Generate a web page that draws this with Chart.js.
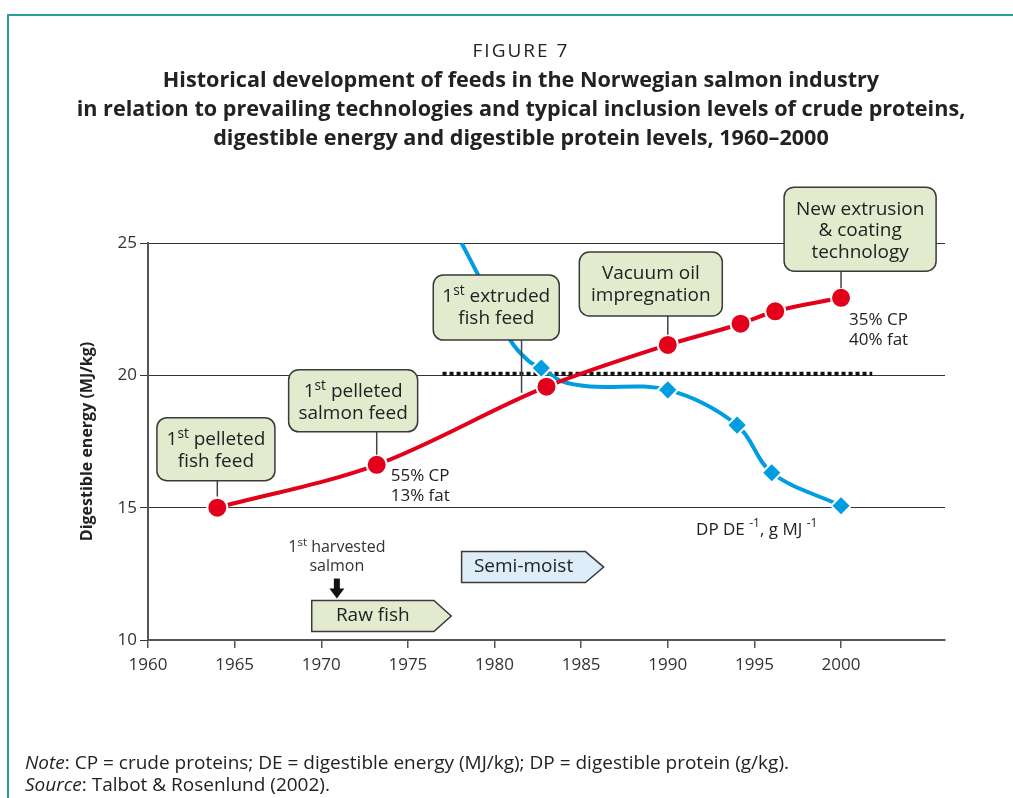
<!DOCTYPE html>
<html>
<head>
<meta charset="utf-8">
<script src="https://cdn.jsdelivr.net/npm/chart.js"></script>
<style>
  body { margin: 0; background: #fff; }
  #wrap { position: relative; width: 1013px; height: 798px; overflow: hidden; font-family: "Open Sans", sans-serif; color: #222; }
  #frame { position: absolute; left: 7px; top: 14px; right: -5px; bottom: -5px; border-top: 2px solid #2a9d96; border-left: 2px solid #2a9d96; }
  #chart { position: absolute; left: 0; top: 0; }
  #head { position: absolute; left: 20px; width: 1002px; top: 36px; text-align: center; }
  #head .fig { font-size: 19px; line-height: 28px; letter-spacing: 2px; }
  #head .ttl { font-size: 21.6px; font-weight: bold; line-height: 29px; }
  #note { position: absolute; left: 25px; top: 751px; font-size: 19px; line-height: 22px; }
</style>
</head>
<body>
<div id="wrap">
  <div id="frame"></div>
  <canvas id="chart" width="1013" height="798"></canvas>
  <div id="head">
    <div class="fig">FIGURE 7</div>
    <div class="ttl">Historical development of feeds in the Norwegian salmon industry<br>in relation to prevailing technologies and typical inclusion levels of crude proteins,<br>digestible energy and digestible protein levels, 1960–2000</div>
  </div>
  <div id="note"><i>Note</i>: CP = crude proteins; DE = digestible energy (MJ/kg); DP = digestible protein (g/kg).<br><i>Source</i>: Talbot &amp; Rosenlund (2002).</div>
</div>
<script>
// digestible energy (MJ/kg), red line
const energyYears = [1964, 1973.2, 1983, 1990, 1994.2, 1996.2, 2000];
const energyValues = [15, 16.62, 19.57, 21.15, 21.95, 22.42, 22.93];

// DP/DE ratio, blue line (markers only where the figure has diamonds)
const ratioYears = [1978.1, 1979.0, 1980.9, 1982.0, 1982.7, 1983.9, 1985.5, 1990, 1994, 1996, 2000];
const ratioValues = [25.0, 23.86, 21.34, 20.52, 20.28, 19.77, 19.58, 19.45, 18.12, 16.32, 15.07];
const ratioMarked = [false, false, false, false, true, false, false, true, true, true, true];

// dotted reference line
const refYears = [1977, 2001.8];
const refValues = [20.06, 20.06];

const xTicks = [1960, 1965, 1970, 1975, 1980, 1985, 1990, 1995, 2000];
const yTicks = [10, 15, 20, 25];

const RED = '#e2001a';
const BLUE = '#009ee0';
const FONT = '"Open Sans", sans-serif';

const toXY = (xs, ys) => xs.map((x, i) => ({ x: x, y: ys[i] }));

// callout boxes: centre year, top value, size in px, leader year / end value
const callouts = [
  { lines: [[['1'], ['st', 1], [' pelleted']], [['fish feed']]], cx: 1963.92, top: 18.40, w: 118, h: 63, lx: 1964, ly: 15.42 },
  { lines: [[['1'], ['st', 1], [' pelleted']], [['salmon feed']]], cx: 1971.84, top: 20.21, w: 129, h: 62, lx: 1973.2, ly: 17.0 },
  { lines: [[['1'], ['st', 1], [' extruded']], [['fish feed']]], cx: 1980.1, top: 23.79, w: 126, h: 65, lx: 1981.56, ly: 19.34 },
  { lines: [[['Vacuum oil']], [['impregnation']]], cx: 1989.02, top: 24.66, w: 143, h: 64, lx: 1990, ly: 21.53 },
  { lines: [[['New extrusion']], [['& coating']], [['technology']]], cx: 2001.1, top: 27.11, w: 152, h: 84, lx: 2000, ly: 23.3 }
];

// arrow-shaped period boxes
const periods = [
  { text: 'Raw fish', x0: 1969.45, x1: 1976.5, tip: 1977.5, top: 11.49, bottom: 10.32, fill: '#e3ebcf' },
  { text: 'Semi-moist', x0: 1978.1, x1: 1985.25, tip: 1986.3, top: 13.34, bottom: 12.17, fill: '#dcedf8' }
];

function richWidth(ctx, parts, size) {
  let w = 0;
  parts.forEach(p => {
    ctx.font = (p[1] ? size * 0.72 : size) + 'px ' + FONT;
    w += ctx.measureText(p[0]).width;
  });
  return w;
}

function drawRich(ctx, parts, cx, cy, size) {
  let x = cx - richWidth(ctx, parts, size) / 2;
  ctx.textAlign = 'left';
  ctx.textBaseline = 'middle';
  parts.forEach(p => {
    const s = p[1] ? size * 0.72 : size;
    ctx.font = s + 'px ' + FONT;
    ctx.fillText(p[0], x, p[1] ? cy - size * 0.3 : cy);
    x += ctx.measureText(p[0]).width;
  });
}

const annotate = {
  id: 'annotate',
  afterDatasetsDraw(chart) {
    const ctx = chart.ctx;
    const xs = chart.scales.x, ys = chart.scales.y;
    ctx.save();
    ctx.fillStyle = '#222';

    // callouts
    callouts.forEach(c => {
      const cx = xs.getPixelForValue(c.cx);
      const top = ys.getPixelForValue(c.top);
      const lx = xs.getPixelForValue(c.lx);
      ctx.strokeStyle = '#444';
      ctx.lineWidth = 1.5;
      ctx.beginPath();
      ctx.moveTo(lx, top + c.h);
      ctx.lineTo(lx, ys.getPixelForValue(c.ly));
      ctx.stroke();
      ctx.beginPath();
      ctx.roundRect(cx - c.w / 2, top, c.w, c.h, 10);
      ctx.fillStyle = '#e3ebcf';
      ctx.fill();
      ctx.strokeStyle = '#3a3a3a';
      ctx.stroke();
      ctx.fillStyle = '#222';
      c.lines.forEach((ln, i) => drawRich(ctx, ln, cx, top + 22 + 21.5 * i, 19));
    });

    // period arrows
    periods.forEach(p => {
      const x0 = xs.getPixelForValue(p.x0), x1 = xs.getPixelForValue(p.x1), xt = xs.getPixelForValue(p.tip);
      const t = ys.getPixelForValue(p.top), b = ys.getPixelForValue(p.bottom);
      ctx.beginPath();
      ctx.moveTo(x0, t); ctx.lineTo(x1, t); ctx.lineTo(xt, (t + b) / 2);
      ctx.lineTo(x1, b); ctx.lineTo(x0, b); ctx.closePath();
      ctx.fillStyle = p.fill;
      ctx.fill();
      ctx.strokeStyle = '#3a3a3a';
      ctx.lineWidth = 1.5;
      ctx.stroke();
      ctx.fillStyle = '#222';
      drawRich(ctx, [[p.text]], (x0 + x1) / 2, (t + b) / 2, 19);
    });

    // first harvested salmon
    const hx = xs.getPixelForValue(1970.9);
    const rawTop = ys.getPixelForValue(periods[0].top);
    ctx.fillStyle = '#333';
    drawRich(ctx, [['1'], ['st', 1], [' harvested']], hx, rawTop - 53, 16);
    drawRich(ctx, [['salmon']], hx, rawTop - 34, 16);
    ctx.fillStyle = '#111';
    ctx.fillRect(hx - 3, rawTop - 22, 6, 11);
    ctx.beginPath();
    ctx.moveTo(hx - 7.5, rawTop - 12); ctx.lineTo(hx + 7.5, rawTop - 12); ctx.lineTo(hx, rawTop - 2);
    ctx.closePath();
    ctx.fill();

    // value notes
    ctx.fillStyle = '#222';
    ctx.font = '17px ' + FONT;
    ctx.textAlign = 'left';
    ctx.textBaseline = 'middle';
    const p2x = xs.getPixelForValue(energyYears[1]), p2y = ys.getPixelForValue(energyValues[1]);
    ctx.fillText('55% CP', p2x + 14, p2y + 11);
    ctx.fillText('13% fat', p2x + 14, p2y + 31);
    const p7x = xs.getPixelForValue(energyYears[6]), p7y = ys.getPixelForValue(energyValues[6]);
    ctx.fillText('35% CP', p7x + 8, p7y + 22);
    ctx.fillText('40% fat', p7x + 8, p7y + 42);

    const bx = xs.getPixelForValue(ratioYears[10]), by = ys.getPixelForValue(ratioValues[10]);
    let tx = bx - 145, ty = by + 24;
    const seq = [['DP DE '], ['-1', 1], [', g MJ '], ['-1', 1]];
    seq.forEach(p => {
      const s = p[1] ? 12 : 17;
      ctx.font = s + 'px ' + FONT;
      ctx.fillText(p[0], tx, p[1] ? ty - 6 : ty);
      tx += ctx.measureText(p[0]).width;
    });
    ctx.restore();
  }
};

new Chart(document.getElementById('chart'), {
  type: 'line',
  data: {
    datasets: [
      {
        data: toXY(energyYears, energyValues),
        borderColor: RED, borderWidth: 4, cubicInterpolationMode: 'monotone',
        pointRadius: 10, pointBackgroundColor: RED, pointBorderColor: '#fff', pointBorderWidth: 2,
        order: 1
      },
      {
        data: toXY(ratioYears, ratioValues),
        borderColor: BLUE, borderWidth: 4, tension: 0.35,
        pointStyle: 'rectRot',
        pointRadius: ratioMarked.map(m => m ? 10 : 0),
        pointBackgroundColor: BLUE, pointBorderColor: '#fff', pointBorderWidth: 2,
        order: 2
      },
      {
        data: toXY(refYears, refValues),
        borderColor: '#111', borderWidth: 4, borderDash: [4, 3], pointRadius: 0,
        order: 3
      }
    ]
  },
  options: {
    responsive: false,
    animation: false,
    events: [],
    layout: { padding: { top: 243, right: 68, bottom: 0, left: 0 } },
    plugins: { legend: { display: false }, tooltip: { enabled: false } },
    scales: {
      x: {
        type: 'linear', min: 1960, max: 2006,
        afterBuildTicks: s => { s.ticks = xTicks.map(v => ({ value: v })); },
        afterFit: s => { s.height = 158; },
        grid: { drawOnChartArea: false, drawTicks: true, tickLength: 8, color: '#555', lineWidth: 1.5 },
        border: { color: '#555', width: 2 },
        ticks: {
          color: '#333', font: { family: FONT, size: 17 }, padding: 7, maxRotation: 0, autoSkip: false,
          callback: v => String(v)
        }
      },
      y: {
        min: 10, max: 25,
        afterBuildTicks: s => { s.ticks = yTicks.map(v => ({ value: v })); },
        afterFit: s => { s.width = 148; },
        grid: { color: '#333', lineWidth: 1, tickLength: 8 },
        border: { color: '#555', width: 2 },
        ticks: { color: '#333', font: { family: FONT, size: 17 }, padding: 3 },
        title: {
          display: true, text: 'Digestible energy (MJ/kg)', color: '#222',
          font: { family: FONT, size: 16, weight: 'bold' }, padding: { top: 78, bottom: 0 }
        }
      }
    }
  },
  plugins: [annotate]
});
</script>
</body>
</html>
